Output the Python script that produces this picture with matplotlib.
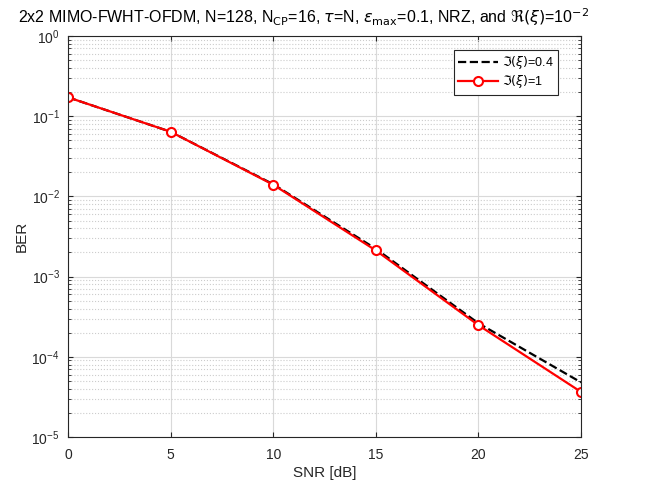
import matplotlib
matplotlib.use('Agg')
import matplotlib.pyplot as plt
from matplotlib.ticker import LogLocator, NullFormatter

plt.rcParams['font.family'] = ['Liberation Sans', 'DejaVu Sans']
plt.rcParams['mathtext.fontset'] = 'dejavusans'

snr = [0, 5, 10, 15, 20, 25]
ber_im04 = [0.172, 0.064, 0.0142, 0.00222, 0.000262, 4.8e-5]
ber_im1 = [0.172, 0.064, 0.0140, 0.00212, 0.000248, 3.65e-5]

fig = plt.figure(figsize=(6.46, 4.88), dpi=100)
ax = fig.add_axes([68/646, 1-437/488, 513/646, 401/488])

ax.semilogy(snr, ber_im04, 'k--', lw=1.6, label=r'$\Im(\xi)$=0.4')
ax.semilogy(snr, ber_im1, '-', color='#ff0000', lw=1.6, marker='o', ms=6.5,
            mfc='white', mec='#ff0000', mew=1.5, label=r'$\Im(\xi)$=1')

ax.set_xlim(0, 25)
ax.set_ylim(1e-5, 1)
ax.set_xticks([0, 5, 10, 15, 20, 25])
ax.yaxis.set_minor_locator(LogLocator(base=10, subs=range(2, 10), numticks=20))
ax.yaxis.set_minor_formatter(NullFormatter())
ax.grid(True, which='major', color='#d9d9d9', lw=0.8)
ax.grid(True, which='minor', axis='y', color='#cccccc', ls=':', lw=0.8)
ax.set_axisbelow(True)
ax.tick_params(which='both', direction='in', top=True, right=True, labelsize=10, colors='#262626')
ax.tick_params(axis='x', pad=8)
ax.tick_params(axis='y', pad=6)
for s in ax.spines.values():
    s.set_color('#262626')
    s.set_linewidth(0.8)

ax.set_xlabel('SNR [dB]', fontsize=11, color='#262626', labelpad=3)
ax.set_ylabel('BER', fontsize=11, color='#262626', labelpad=2)
ax.set_title(r'2x2 MIMO-FWHT-OFDM, N=128, N$_{\rm CP}$=16, $\tau$=N, $\epsilon_{\rm max}$=0.1, NRZ, and $\Re(\xi)$=10$^{-2}$',
             fontsize=11.5, pad=9, x=0.46)

leg = ax.legend(loc='upper right', bbox_to_anchor=(558/646, 1-50/488), bbox_transform=fig.transFigure,
                fontsize=9, fancybox=False, edgecolor='#262626', borderaxespad=0,
                handlelength=3.2, labelspacing=0.15, borderpad=0.35, handletextpad=0.3, framealpha=1)
leg.get_frame().set_linewidth(0.8)

fig.savefig('out.png', dpi=100)
